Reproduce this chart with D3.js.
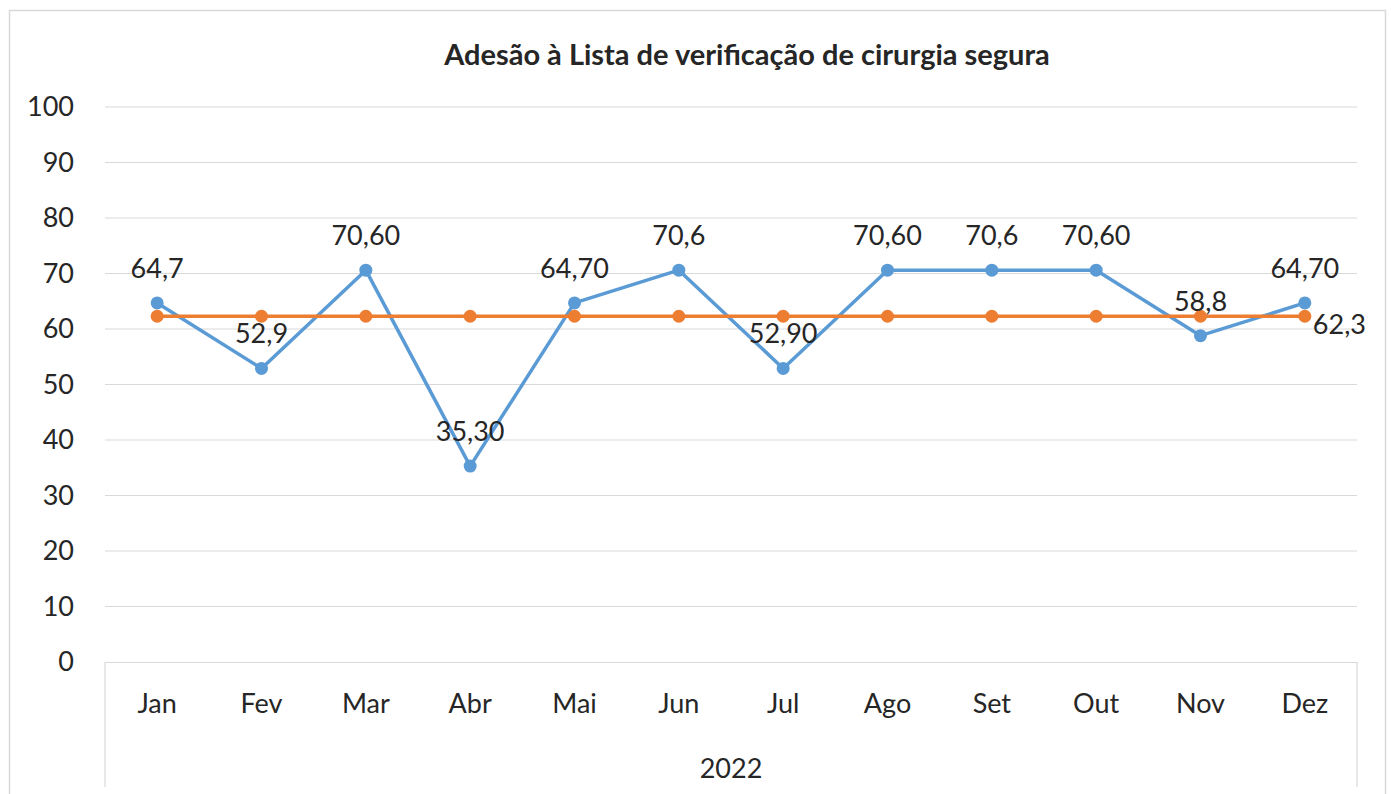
<!DOCTYPE html>
<meta charset="utf-8">
<script src="https://d3js.org/d3.v7.min.js"></script>
<style>
  body { margin: 0; background: #fff; }
  text { font-family: Lato, "Open Sans", sans-serif; fill: #262626; }
</style>
<svg id="chart" width="1391" height="794"></svg>
<script>

// data
var months = ["Jan", "Fev", "Mar", "Abr", "Mai", "Jun", "Jul", "Ago", "Set", "Out", "Nov", "Dez"];
var adesao = [64.7, 52.9, 70.6, 35.3, 64.7, 70.6, 52.9, 70.6, 70.6, 70.6, 58.8, 64.7];
var adesaoLabels = ["64,7", "52,9", "70,60", "35,30", "64,70", "70,6", "52,90", "70,60", "70,6", "70,60", "58,8", "64,70"];
var media = [62.3, 62.3, 62.3, 62.3, 62.3, 62.3, 62.3, 62.3, 62.3, 62.3, 62.3, 62.3];
var mediaLabel = "62,3";
var yTicks = [0, 10, 20, 30, 40, 50, 60, 70, 80, 90, 100];
var year = "2022";

var margin = {top: 107, right: 34, bottom: 132, left: 105};
var width = 1391 - margin.left - margin.right,
    height = 794 - margin.top - margin.bottom;
var fs = "27px";

var svg = d3.select("#chart");

// chart frame
svg.append("rect")
  .attr("x", 9.5).attr("y", 10.5)
  .attr("width", 1376).attr("height", 800)
  .attr("fill", "none").attr("stroke", "#d9d9d9").attr("stroke-width", 1.5);

svg.append("text")
  .attr("x", 747).attr("y", 65)
  .attr("text-anchor", "middle")
  .style("font-size", "29px").style("font-weight", "bold")
  .text("Adesão à Lista de verificação de cirurgia segura");

var g = svg.append("g")
  .attr("transform", "translate(" + margin.left + "," + margin.top + ")");

var x = d3.scaleBand().domain(months).range([0, width]);
var y = d3.scaleLinear().domain([0, 100]).range([height, 0]);

// gridlines
g.append("g")
  .selectAll("line")
  .data(yTicks.slice(1))
  .join("line")
    .attr("x1", 0).attr("x2", width)
    .attr("y1", function(d) { return y(d); })
    .attr("y2", function(d) { return y(d); })
    .attr("stroke", "#d9d9d9").attr("stroke-width", 1.2);

// Y axis labels
var yAxis = g.append("g")
  .call(d3.axisLeft(y).tickValues(yTicks).tickSize(0).tickPadding(31));
yAxis.select(".domain").remove();
yAxis.selectAll("text").style("font-size", fs).attr("fill", "#262626");

// X axis
var xAxis = g.append("g")
  .attr("transform", "translate(0," + height + ")")
  .call(d3.axisBottom(x).tickSize(0).tickPadding(32));
xAxis.select(".domain").attr("stroke", "#d9d9d9").attr("stroke-width", 1.2);
xAxis.selectAll("text").style("font-size", fs).attr("fill", "#262626");

// group separators for the year level
[0, width].forEach(function(px) {
  g.append("line")
    .attr("x1", px).attr("x2", px)
    .attr("y1", height).attr("y2", height + 125)
    .attr("stroke", "#d9d9d9").attr("stroke-width", 1.2);
});

g.append("text")
  .attr("x", width / 2).attr("y", height + 116)
  .attr("text-anchor", "middle")
  .style("font-size", fs)
  .text(year);

var cx = function(d, i) { return x(months[i]) + x.bandwidth() / 2; };

var line = d3.line()
  .x(function(d, i) { return cx(d, i); })
  .y(function(d) { return y(d); });

// blue series
g.append("path")
  .datum(adesao)
  .attr("fill", "none").attr("stroke", "#5b9bd5")
  .attr("stroke-width", 3.5).attr("stroke-linejoin", "round")
  .attr("d", line);

g.append("g").selectAll("circle")
  .data(adesao)
  .join("circle")
    .attr("cx", cx).attr("cy", function(d) { return y(d); })
    .attr("r", 6.5).attr("fill", "#5b9bd5");

// orange series
g.append("path")
  .datum(media)
  .attr("fill", "none").attr("stroke", "#ed7d31")
  .attr("stroke-width", 3.5)
  .attr("d", line);

g.append("g").selectAll("circle")
  .data(media)
  .join("circle")
    .attr("cx", cx).attr("cy", function(d) { return y(d); })
    .attr("r", 6.5).attr("fill", "#ed7d31");

// data labels
g.append("g").selectAll("text")
  .data(adesao)
  .join("text")
    .attr("x", cx)
    .attr("y", function(d) { return y(d) - 25; })
    .attr("text-anchor", "middle")
    .style("font-size", fs)
    .text(function(d, i) { return adesaoLabels[i]; });

var last = media.length - 1;
g.append("text")
  .attr("x", cx(media[last], last) + 8)
  .attr("y", y(media[last]) + 18)
  .style("font-size", fs)
  .text(mediaLabel);

</script>
